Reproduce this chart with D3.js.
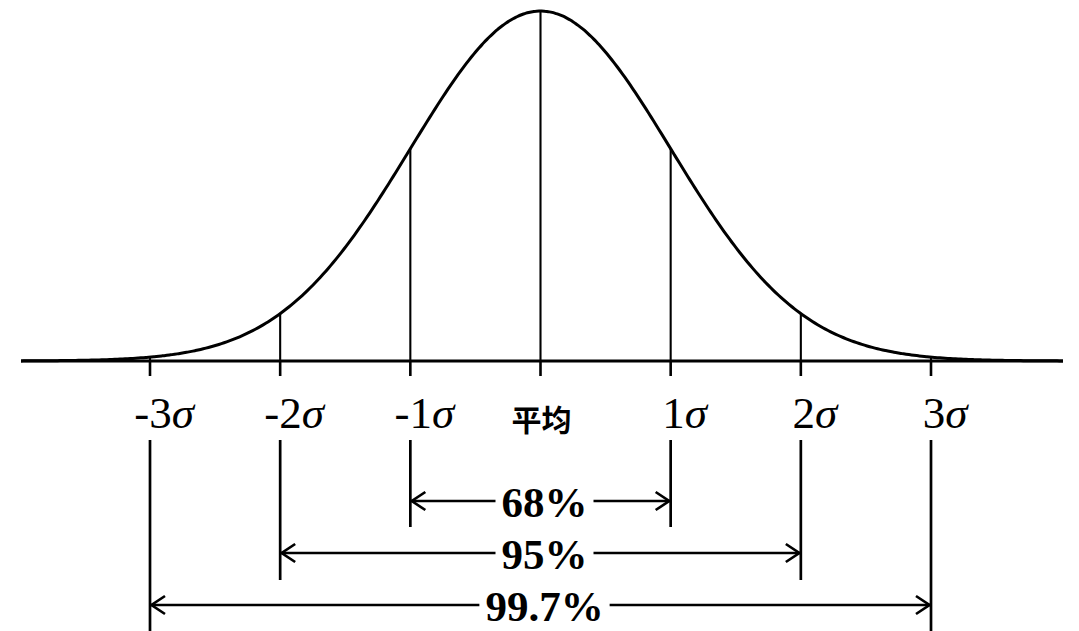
<!DOCTYPE html>
<html>
<head>
<meta charset="utf-8">
<script src="https://cdn.jsdelivr.net/npm/d3@7"></script>
<style>
  body { margin: 0; background: #fff; }
  svg { display: block; }
</style>
</head>
<body>
<script>
// tick positions in units of sigma, and their labels
const sigmaTicks = [-3, -2, -1, 0, 1, 2, 3];
const tickLabels = ["-3", "-2", "-1", "平均", "1", "2", "3"];

// the three coverage ranges under the curve
const rangeLow = [-1, -2, -3];
const rangeHigh = [1, 2, 3];
const rangeLabels = ["68%", "95%", "99.7%"];

const width = 1079, height = 631;

const svg = d3.select('body').append('svg')
    .attr('width', width)
    .attr('height', height);

const x = d3.scaleLinear()
    .domain([-3, 3])
    .range([150, 931]);

const pdf = z => Math.exp(-z * z / 2) / Math.sqrt(2 * Math.PI);

const y = d3.scaleLinear()
    .domain([0, pdf(0)])
    .range([361, 11]);

const xMin = x.invert(21), xMax = x.invert(1063);

// baseline
svg.append('line')
    .attr('x1', x(xMin)).attr('x2', x(xMax))
    .attr('y1', y(0)).attr('y2', y(0))
    .attr('stroke', '#000')
    .attr('stroke-width', 3);

// verticals from axis up to the curve
svg.selectAll('line.inner')
    .data(sigmaTicks)
    .join('line')
    .attr('class', 'inner')
    .attr('x1', d => x(d)).attr('x2', d => x(d))
    .attr('y1', y(0)).attr('y2', d => y(pdf(d)))
    .attr('stroke', '#000')
    .attr('stroke-width', 2.1);

// small ticks below the axis
svg.selectAll('line.tick')
    .data(sigmaTicks)
    .join('line')
    .attr('class', 'tick')
    .attr('x1', d => x(d)).attr('x2', d => x(d))
    .attr('y1', y(0)).attr('y2', 376)
    .attr('stroke', '#000')
    .attr('stroke-width', 2.6);

// the bell curve
const line = d3.line()
    .x(d => x(d))
    .y(d => y(pdf(d)))
    .curve(d3.curveBasis);

svg.append('path')
    .datum(d3.range(xMin, xMax, 0.02).concat([xMax]))
    .attr('d', line)
    .attr('fill', 'none')
    .attr('stroke', '#000')
    .attr('stroke-width', 3);

// tick labels
const labels = svg.selectAll('text.lab')
    .data(sigmaTicks)
    .join('text')
    .attr('class', 'lab')
    .attr('text-anchor', 'middle')
    .attr('y', d => d === 0 ? 431 : 428)
    .attr('x', d => d === 0 ? x(d) + 1 : x(d) + 14)
    .style('font-family', d => d === 0 ? '"Noto Sans CJK SC", sans-serif' : '"Liberation Serif", serif')
    .style('font-size', d => d === 0 ? '30px' : '45px')
    .style('font-weight', d => d === 0 ? 'bold' : 'normal');

labels.each(function(d, i) {
    const t = d3.select(this);
    if (d === 0) {
        t.text(tickLabels[i]);
    } else {
        t.append('tspan').text(tickLabels[i]);
        t.append('tspan').style('font-style', 'italic').text('σ');
    }
});

// range brackets
const rowY = [501, 553, 605];
const rowBottom = [527, 580, 631];
const head = 15, half = 9;

rangeLabels.forEach((lab, i) => {
    const x0 = x(rangeLow[i]), x1 = x(rangeHigh[i]), yy = rowY[i];

    [x0, x1].forEach(xx => {
        svg.append('line')
            .attr('x1', xx).attr('x2', xx)
            .attr('y1', 440).attr('y2', rowBottom[i])
            .attr('stroke', '#000')
            .attr('stroke-width', 2.7);
    });

    const txt = svg.append('text')
        .attr('x', x(0) + 4)
        .attr('y', yy + 16)
        .attr('text-anchor', 'middle')
        .style('font-family', '"Liberation Serif", serif')
        .style('font-weight', 'bold')
        .style('font-size', '43px')
        .text(lab);

    const w = txt.node().getComputedTextLength();
    const tx0 = x(0) + 4 - w / 2 - 6, tx1 = x(0) + 4 + w / 2 + 6;

    svg.append('line')
        .attr('x1', x0).attr('x2', tx0)
        .attr('y1', yy).attr('y2', yy)
        .attr('stroke', '#000').attr('stroke-width', 2.7);
    svg.append('line')
        .attr('x1', tx1).attr('x2', x1)
        .attr('y1', yy).attr('y2', yy)
        .attr('stroke', '#000').attr('stroke-width', 2.7);

    // open arrow heads
    svg.append('path')
        .attr('d', `M${x0 + head},${yy - half}L${x0 + 1.5},${yy}L${x0 + head},${yy + half}`)
        .attr('fill', 'none').attr('stroke', '#000').attr('stroke-width', 2.7);
    svg.append('path')
        .attr('d', `M${x1 - head},${yy - half}L${x1 - 1.5},${yy}L${x1 - head},${yy + half}`)
        .attr('fill', 'none').attr('stroke', '#000').attr('stroke-width', 2.7);
});
</script>
</body>
</html>
